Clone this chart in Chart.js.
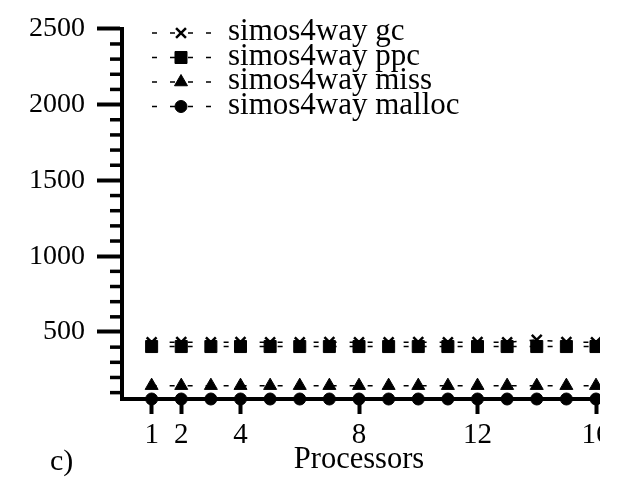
<!DOCTYPE html>
<html>
<head>
<meta charset="utf-8">
<script src="https://cdn.jsdelivr.net/npm/chart.js@4/dist/chart.umd.min.js"></script>
<style>
html, body { margin: 0; padding: 0; background: #fff; overflow: hidden; }
#wrap { width: 600px; height: 478px; overflow: hidden; }
</style>
</head>
<body>
<div id="wrap"><canvas id="c" width="617" height="478"></canvas></div>
<script>
// data
var procs = [1, 2, 3, 4, 5, 6, 7, 8, 9, 10, 11, 12, 13, 14, 15, 16];
var gcVals = [432, 433, 432, 433, 432, 432, 433, 432, 432, 433, 432, 433, 432, 448, 433, 432];
var ppcVals = [404, 404, 404, 404, 404, 404, 404, 404, 404, 404, 404, 404, 404, 404, 404, 404];
var missVals = [146, 146, 146, 146, 146, 146, 146, 146, 146, 146, 146, 146, 146, 146, 146, 146];
var mallocVals = [58, 58, 58, 58, 58, 58, 58, 58, 58, 58, 58, 58, 58, 58, 58, 58];
var xTicks = [1, 2, 4, 8, 12, 16];
var yTicks = [500, 1000, 1500, 2000, 2500];
var seriesNames = ['simos4way gc', 'simos4way ppc', 'simos4way miss', 'simos4way malloc'];

var serif = 'Liberation Serif';

function pts(vals) {
  return vals.map(function (v, i) { return { x: procs[i], y: v }; });
}

function series(name, vals, style, r, bw) {
  return {
    label: name,
    data: pts(vals),
    borderColor: '#000',
    backgroundColor: '#000',
    borderWidth: 1.5,
    borderDash: [5, 13],
    pointStyle: style,
    pointRadius: r,
    pointBorderWidth: bw,
    pointBackgroundColor: '#000',
    pointBorderColor: '#000',
    tension: 0,
    fill: false,
    clip: false
  };
}

// small minor ticks on the y axis, every 100
var minorTicks = {
  id: 'minorTicks',
  afterDraw: function (chart) {
    var y = chart.scales.y, ctx = chart.ctx;
    ctx.save();
    ctx.strokeStyle = '#000';
    ctx.lineWidth = 3.5;
    for (var v = 100; v < y.max; v += 100) {
      if (v % 500 === 0 || v < y.min) continue;
      var py = y.getPixelForValue(v);
      ctx.beginPath();
      ctx.moveTo(y.right - 12, py);
      ctx.lineTo(y.right, py);
      ctx.stroke();
    }
    ctx.restore();
  }
};

// legend drawn as "- -x- -  label" like the original
var lineLegend = {
  id: 'lineLegend',
  afterDraw: function (chart) {
    var ctx = chart.ctx;
    chart.data.datasets.forEach(function (ds, i) {
      var y = 33 + i * 24.5;
      ctx.save();
      ctx.strokeStyle = '#000';
      ctx.fillStyle = '#000';
      ctx.lineWidth = 1.5;
      ctx.setLineDash([5, 13]);
      ctx.beginPath();
      ctx.moveTo(152, y);
      ctx.lineTo(212, y);
      ctx.stroke();
      ctx.setLineDash([]);
      ctx.lineWidth = ds.pointBorderWidth;
      Chart.helpers.drawPoint(ctx, { pointStyle: ds.pointStyle, radius: ds.pointRadius, borderWidth: ds.pointBorderWidth, rotation: 0 }, 181, y);
      ctx.font = '31px "' + serif + '"';
      ctx.textBaseline = 'alphabetic';
      ctx.textAlign = 'left';
      ctx.fillText(ds.label, 228, y + 7);
      ctx.restore();
    });
    ctx.save();
    ctx.fillStyle = '#000';
    ctx.font = '30px "' + serif + '"';
    ctx.textBaseline = 'alphabetic';
    ctx.fillText('c)', 50, 470);
    ctx.restore();
  }
};

new Chart(document.getElementById('c'), {
  type: 'line',
  data: {
    datasets: [
      series(seriesNames[0], gcVals, 'crossRot', 7, 2.5),
      series(seriesNames[1], ppcVals, 'rect', 8.5, 1),
      series(seriesNames[2], missVals, 'triangle', 7.5, 1),
      series(seriesNames[3], mallocVals, 'circle', 6, 1)
    ]
  },
  options: {
    responsive: false,
    animation: false,
    layout: { padding: { top: 22, right: 21, left: 0, bottom: 0 } },
    plugins: { legend: { display: false }, tooltip: { enabled: false } },
    scales: {
      x: {
        type: 'linear',
        min: 0,
        max: 16,
        afterBuildTicks: function (s) { s.ticks = xTicks.map(function (v) { return { value: v }; }); },
        afterFit: function (s) { s.height = 79; },
        grid: { drawOnChartArea: false, tickLength: 15, tickWidth: 4, tickColor: '#000', color: '#000' },
        border: { display: true, color: '#000', width: 4 },
        ticks: { color: '#000', font: { family: serif, size: 29 }, padding: 4, maxRotation: 0, autoSkip: false,
          callback: function (v) { return String(v); } },
        title: { display: true, text: 'Processors', color: '#000', font: { family: serif, size: 30.5 }, padding: 0 }
      },
      y: {
        min: 58,
        max: 2500,
        afterBuildTicks: function (s) { s.ticks = yTicks.map(function (v) { return { value: v }; }); },
        afterFit: function (s) { s.width = 122; },
        grid: { drawOnChartArea: false, tickLength: 25, tickWidth: 4, tickColor: '#000', color: '#000' },
        border: { display: true, color: '#000', width: 4 },
        ticks: { color: '#000', font: { family: serif, size: 28 }, padding: 12,
          callback: function (v) { return String(v); } }
      }
    }
  },
  plugins: [minorTicks, lineLegend]
});
</script>
</body>
</html>
